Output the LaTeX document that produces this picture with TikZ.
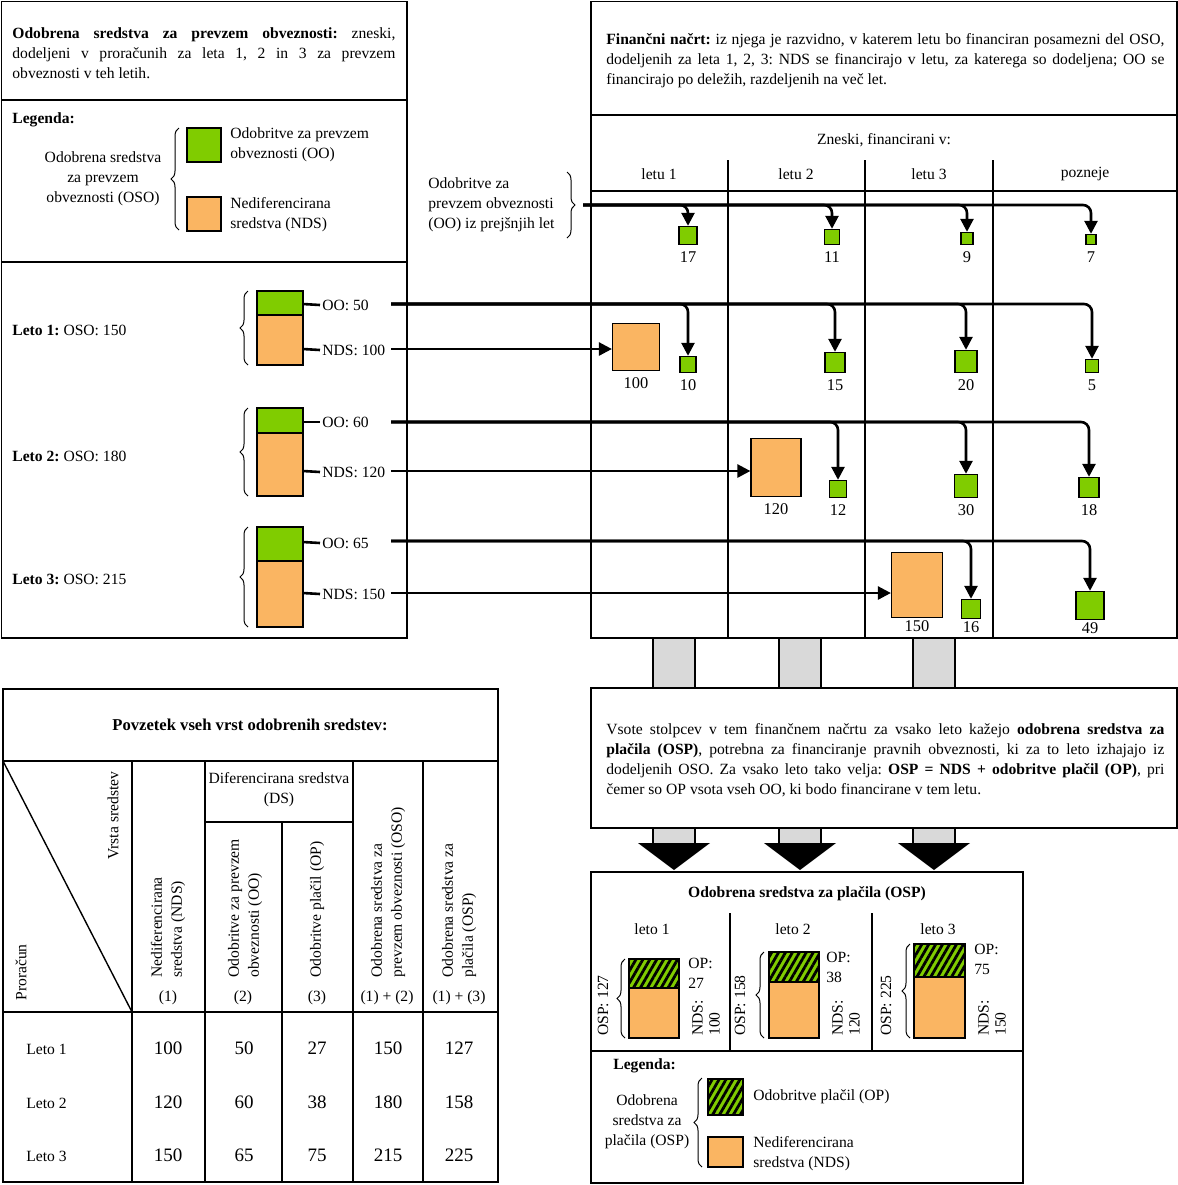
\documentclass[tikz,border=0pt]{standalone}
\usepackage{fontspec}
\setmainfont{Liberation Serif}
\usetikzlibrary{arrows.meta, decorations.pathreplacing, patterns.meta}
\definecolor{oogreen}{HTML}{80CC00}
\definecolor{ndsorange}{HTML}{FAB562}
\definecolor{linkgray}{HTML}{D9D9D9}
\frenchspacing

\begin{document}
\begin{tikzpicture}[x=0.5pt, y=-0.5pt,
		every node/.style={font=\fontsize{7.8}{10}\selectfont, inner sep=1pt},
		frame/.style={draw, line width=0.9pt},
		rule/.style={line width=0.7pt},
		oosq/.style={draw, line width=0.6pt, fill=oogreen, inner sep=0pt, minimum size=#1, anchor=south},
		ndsbox/.style 2 args={draw, line width=0.6pt, fill=ndsorange, inner sep=0pt, minimum width=#1, minimum height=#2, anchor=south},
		num/.style={font=\fontsize{8.2}{10}\selectfont},
		tval/.style={font=\fontsize{9.5}{11}\selectfont},
		para/.style={anchor=north west, text width=#1, align=justify},
		flow/.style={line width=1.3pt, rounded corners=4pt, -{Triangle[length=6.5pt, width=6.5pt]}},
		tick/.style={line width=1.3pt},
		brc/.style={decorate, decoration={brace, amplitude=4pt}, line width=0.5pt},
		opfill/.style={draw, line width=0.6pt, preaction={fill=oogreen}, pattern={Lines[angle=60, distance=3pt, line width=1.4pt]}, pattern color=black},
		ndsfill/.style={draw, line width=0.6pt, fill=ndsorange},
		oofill/.style={draw, line width=0.6pt, fill=oogreen},
		rot/.style={rotate=90, anchor=west, align=left},
		link/.style={draw, line width=0.6pt, fill=linkgray}]
	\useasboundingbox (0,0) rectangle (1178,1185);
	
	\draw[link] (653,638) rectangle (695,688);
	\draw[link] (779,638) rectangle (821,688);
	\draw[link] (913,638) rectangle (955,688);
	\draw[link] (653,828) rectangle (695,845);
	\draw[link] (779,828) rectangle (821,845);
	\draw[link] (913,828) rectangle (955,845);
	\fill (638,843) -- (710,843) -- (674,870) -- cycle;
	\fill (764,843) -- (836,843) -- (800,870) -- cycle;
	\fill (898,843) -- (970,843) -- (934,870) -- cycle;
	
	\draw[frame] (1.5,1.5) rectangle (407,638);
	\draw[rule] (1.5,100) -- (407,100);
	\draw[rule] (1.5,262) -- (407,262);
	\node[para=191.5pt] (osotxt) at (10,25) {\textbf{Odobrena sredstva za prevzem obveznosti:} zneski,\linebreak dodeljeni v proračunih za leta 1, 2 in 3 za prevzem\linebreak obveznosti v teh letih.};
	
	\node[anchor=west] (leg1) at (10,120) {\textbf{Legenda:}};
	\node[align=center] (osoleg) at (103,179) {Odobrena sredstva\\za prevzem\\obveznosti (OSO)};
	\draw[brc] (179,230) -- (179,128);
	\draw[oofill] (187,128) rectangle (221,162);
	\draw[ndsfill] (187,197) rectangle (221,231);
	\node[anchor=west, align=left] (ooleg) at (228,145) {Odobritve za prevzem\\obveznosti (OO)};
	\node[anchor=west, align=left] (ndsleg) at (228,215) {Nediferencirana\\sredstva (NDS)};
	
	\node[anchor=west] (leto1) at (10,330) {\textbf{Leto 1:} OSO: 150};
	\draw[brc] (248,365) -- (248,291);
	\draw[oofill] (257,291) rectangle (303,315);
	\draw[ndsfill] (257,315) rectangle (303,365);
	\node[anchor=west] (oo1lbl) at (320,305) {OO: 50};
	\node[anchor=west] (nds1lbl) at (320,350) {NDS: 100};
	\draw[tick] (303,304) -- (oo1lbl.west);
	\draw[tick] (303,349) -- (nds1lbl.west);
	
	\node[anchor=west] (leto2) at (10,456) {\textbf{Leto 2:} OSO: 180};
	\draw[brc] (248,496) -- (248,408);
	\draw[oofill] (257,408) rectangle (303,433);
	\draw[ndsfill] (257,433) rectangle (303,496);
	\node[anchor=west] (oo2lbl) at (320,422) {OO: 60};
	\node[anchor=west] (nds2lbl) at (320,472) {NDS: 120};
	\draw[tick] (303,422) -- (oo2lbl.west);
	\draw[tick] (303,471) -- (nds2lbl.west);
	
	\node[anchor=west] (leto3) at (10,579) {\textbf{Leto 3:} OSO: 215};
	\draw[brc] (248,627) -- (248,527);
	\draw[oofill] (257,527) rectangle (303,561);
	\draw[ndsfill] (257,561) rectangle (303,627);
	\node[anchor=west] (oo3lbl) at (320,543) {OO: 65};
	\node[anchor=west] (nds3lbl) at (320,594) {NDS: 150};
	\draw[tick] (303,542) -- (oo3lbl.west);
	\draw[tick] (303,593) -- (nds3lbl.west);
	
	\draw[frame] (591,1.5) rectangle (1177,638);
	\draw[rule] (591,115) -- (1177,115);
	\node[para=279pt] (plantxt) at (604,31) {\textbf{Finančni načrt:} iz njega je razvidno, v katerem letu bo financiran posamezni del OSO,\linebreak dodeljenih za leta 1, 2, 3: NDS se financirajo v letu, za katerega so dodeljena; OO se\linebreak financirajo po deležih, razdeljenih na več let.};
	\node (zneski) at (884,140) {Zneski, financirani v:};
	\node (col1) at (659,174) {letu 1};
	\node (col2) at (796,174) {letu 2};
	\node (col3) at (929,174) {letu 3};
	\node (col4) at (1085,174) {pozneje};
	\draw[rule] (728,160) -- (728,638);
	\draw[rule] (865,160) -- (865,638);
	\draw[rule] (993,160) -- (993,638);
	\draw[line width=1.4pt] (591,191) -- (1177,191);
	
	\node[anchor=west, align=left] (prevlbl) at (426,205) {Odobritve za\\prevzem obveznosti\\(OO) iz prejšnjih let};
	\draw[brc] (567,172) -- (567,238);
	\coordinate (oo0) at (583,205);
	\node[oosq=9pt, label={[num, label distance=2pt]below:17}] (p17) at (688,245) {};
	\node[oosq=7.5pt, label={[num, label distance=2pt]below:11}] (p11) at (832,245) {};
	\node[oosq=6pt, label={[num, label distance=2pt]below:9}] (p9) at (967,245) {};
	\node[oosq=5pt, label={[num, label distance=2pt]below:7}] (p7) at (1091,245) {};
	\draw[flow] (oo0) -| (p17.north);
	\draw[flow] (oo0) -| (p11.north);
	\draw[flow] (oo0) -| (p9.north);
	\draw[flow] (oo0) -| (p7.north);
	
	\coordinate (oo1) at (391,304);
	\coordinate (nds1) at (391,349);
	\node[ndsbox={23.5pt}{23.5pt}, label={[num, label distance=2pt]below:100}] (n100) at (636,371) {};
	\node[oosq=8pt, label={[num, label distance=2pt]below:10}] (r10) at (688,373) {};
	\node[oosq=10pt, label={[num, label distance=2pt]below:15}] (r15) at (835,373) {};
	\node[oosq=11pt, label={[num, label distance=2pt]below:20}] (r20) at (966,373) {};
	\node[oosq=6.5pt, label={[num, label distance=2pt]below:5}] (r5) at (1092,373) {};
	\draw[flow] (nds1) -- (nds1 -| n100.west);
	\draw[flow] (oo1) -| (r10.north);
	\draw[flow] (oo1) -| (r15.north);
	\draw[flow] (oo1) -| (r20.north);
	\draw[flow] (oo1) -| (r5.north);
	
	\coordinate (oo2) at (391,422);
	\coordinate (nds2) at (391,471);
	\node[ndsbox={25pt}{29pt}, label={[num, label distance=2pt]below:120}] (n120) at (776,497) {};
	\node[oosq=8.5pt, label={[num, label distance=2pt]below:12}] (s12) at (838,498) {};
	\node[oosq=11.5pt, label={[num, label distance=2pt]below:30}] (s30) at (966,498) {};
	\node[oosq=10pt, label={[num, label distance=2pt]below:18}] (s18) at (1089,498) {};
	\draw[flow] (nds2) -- (nds2 -| n120.west);
	\draw[flow] (oo2) -| (s12.north);
	\draw[flow] (oo2) -| (s30.north);
	\draw[flow] (oo2) -| (s18.north);
	
	\coordinate (oo3) at (391,541);
	\coordinate (nds3) at (391,593);
	\node[ndsbox={25.5pt}{32.5pt}, label={[num, label distance=0pt]below:150}] (n150) at (917,618) {};
	\node[oosq=9.5pt, label={[num, label distance=0pt]below:16}] (t16) at (971,619) {};
	\node[oosq=14pt, label={[num, label distance=0pt]below:49}] (t49) at (1090,620) {};
	\draw[flow] (nds3) -- (nds3 -| n150.west);
	\draw[flow] (oo3) -| (t16.north);
	\draw[flow] (oo3) -| (t49.north);
	
	\draw[frame] (591,688) rectangle (1177,828);
	\node[para=279pt] (osptxt) at (604,721) {Vsote stolpcev v tem finančnem načrtu za vsako leto kažejo \textbf{odobrena sredstva za}\linebreak \textbf{plačila (OSP)}, potrebna za financiranje pravnih obveznosti, ki za to leto izhajajo iz\linebreak dodeljenih OSO. Za vsako leto tako velja: \textbf{OSP = NDS + odobritve plačil (OP)}, pri\linebreak čemer so OP vsota vseh OO, ki bodo financirane v tem letu.};
	
	\draw[frame] (591,872) rectangle (1023,1183);
	\node (osptitle) at (807,894) {\textbf{Odobrena sredstva za plačila (OSP)}};
	\draw[rule] (730,913) -- (730,1051);
	\draw[rule] (872,913) -- (872,1051);
	\draw[rule] (591,1051) -- (1023,1051);
	\node (yr1) at (652,929) {leto 1};
	\node (yr2) at (793,929) {leto 2};
	\node (yr3) at (938,929) {leto 3};
	
	\draw[opfill] (629,959) rectangle (679,988);
	\draw[ndsfill] (629,988) rectangle (679,1038);
	\draw[brc] (625,1038) -- (625,959);
	\node[rot] (osp1) at (603,1038) {OSP: 127};
	\node[anchor=north west, align=left] (op1) at (686,956) {OP:\\27};
	\node[rot, font=\fontsize{7.8}{8.5}\selectfont] (ndsb1) at (706,1038) {NDS:\\100};
	
	\draw[opfill] (769,952) rectangle (819,982);
	\draw[ndsfill] (769,982) rectangle (819,1038);
	\draw[brc] (764,1038) -- (764,952);
	\node[rot] (osp2) at (740,1038) {OSP: 158};
	\node[anchor=north west, align=left] (op2) at (824,950) {OP:\\38};
	\node[rot, font=\fontsize{7.8}{8.5}\selectfont] (ndsb2) at (846,1038) {NDS:\\120};
	
	\draw[opfill] (914,944) rectangle (965,977);
	\draw[ndsfill] (914,977) rectangle (965,1038);
	\draw[brc] (910,1038) -- (910,944);
	\node[rot] (osp3) at (886,1038) {OSP: 225};
	\node[anchor=north west, align=left] (op3) at (972,942) {OP:\\75};
	\node[rot, font=\fontsize{7.8}{8.5}\selectfont] (ndsb3) at (992,1038) {NDS:\\150};
	
	\node[anchor=west] (leg2) at (611,1066) {\textbf{Legenda:}};
	\node[align=center] (ospleg) at (647,1122) {Odobrena\\sredstva za\\plačila (OSP)};
	\draw[brc] (702,1167) -- (702,1078);
	\draw[opfill] (708,1079) rectangle (743,1115);
	\draw[ndsfill] (708,1137) rectangle (743,1167);
	\node[anchor=west] (opleg) at (751,1097) {Odobritve plačil (OP)};
	\node[anchor=west, align=left] (ndsleg2) at (751,1154) {Nediferencirana\\sredstva (NDS)};
	
	\draw[frame] (3,689) rectangle (498,1182);
	\node[font=\fontsize{8.3}{10}\selectfont] (sumtitle) at (250,725) {\textbf{Povzetek vseh vrst odobrenih sredstev:}};
	\draw[rule] (3,761) -- (498,761);
	\draw[rule] (3,1012) -- (498,1012);
	\draw[rule] (205,822) -- (353,822);
	\draw[rule] (132,761) -- (132,1182);
	\draw[rule] (205,761) -- (205,1182);
	\draw[rule] (282,822) -- (282,1182);
	\draw[rule] (353,761) -- (353,1182);
	\draw[rule] (423,761) -- (423,1182);
	\draw[rule] (3,761) -- (132,1012);
	\node[rot] (hvrsta) at (113,862) {Vrsta sredstev};
	\node[rot] (hpror) at (21,1003) {Proračun};
	\node[align=center] (hds) at (279,790) {Diferencirana sredstva\\(DS)};
	\node[rot] (hnds) at (168,980) {Nediferencirana\\sredstva (NDS)};
	\node[rot] (hoo) at (245,980) {Odobritve za prevzem\\obveznosti (OO)};
	\node[rot] (hop) at (317,980) {Odobritve plačil (OP)};
	\node[rot] (hoso) at (388,980) {Odobrena sredstva za\\prevzem obveznosti (OSO)};
	\node[rot] (hosp) at (459,980) {Odobrena sredstva za\\plačila (OSP)};
	\node (c1) at (168,998) {(1)};
	\node (c2) at (243,998) {(2)};
	\node (c3) at (317,998) {(3)};
	\node (c12) at (387,998) {(1) + (2)};
	\node (c13) at (459,998) {(1) + (3)};
	
	\node[anchor=west] (row1) at (24,1049) {Leto 1};
	\node[tval] (v11) at (168,1048) {100};
	\node[tval] (v12) at (244,1048) {50};
	\node[tval] (v13) at (317,1048) {27};
	\node[tval] (v14) at (388,1048) {150};
	\node[tval] (v15) at (459,1048) {127};
	\node[anchor=west] (row2) at (24,1103) {Leto 2};
	\node[tval] (v21) at (168,1102) {120};
	\node[tval] (v22) at (244,1102) {60};
	\node[tval] (v23) at (317,1102) {38};
	\node[tval] (v24) at (388,1102) {180};
	\node[tval] (v25) at (459,1102) {158};
	\node[anchor=west] (row3) at (24,1156) {Leto 3};
	\node[tval] (v31) at (168,1155) {150};
	\node[tval] (v32) at (244,1155) {65};
	\node[tval] (v33) at (317,1155) {75};
	\node[tval] (v34) at (388,1155) {215};
	\node[tval] (v35) at (459,1155) {225};
\end{tikzpicture}
\end{document}
